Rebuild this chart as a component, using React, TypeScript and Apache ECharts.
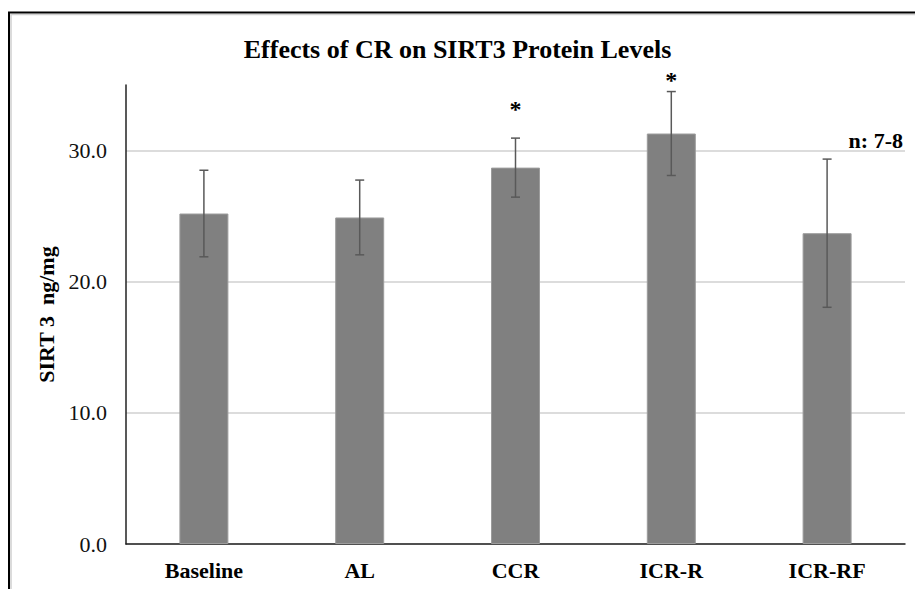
import React, { useEffect, useRef } from "react";
import * as echarts from "echarts";

const categories = ["Baseline", "AL", "CCR", "ICR-R", "ICR-RF"];
const means = [25.2, 24.9, 28.7, 31.3, 23.7];
const errors = [3.3, 2.85, 2.25, 3.2, 5.65];
const significance = ["", "", "*", "*", ""];
const markerLevels = [null, null, 33.2, 35.4, null];
const yMin = 0;
const yMax = 35;
const yInterval = 10;
const titleText = "Effects of CR on SIRT3 Protein Levels";
const yAxisName = "SIRT 3  ng/mg";
const sampleNote = "n: 7-8";

const FONT = "'Liberation Serif', 'Times New Roman', Times, serif";

export default function App() {
  const ref = useRef<HTMLDivElement>(null);

  useEffect(() => {
    if (!ref.current) return;
    const chart = echarts.init(ref.current, null, { renderer: "svg" });

    const errData = categories.map((_, i) => [i, means[i] - errors[i], means[i] + errors[i]]);
    const starData = categories
      .map((_, i) => (significance[i] && markerLevels[i] != null ? [i, markerLevels[i]] : null))
      .filter((d) => d !== null);

    chart.setOption({
      animation: false,
      backgroundColor: "#ffffff",
      textStyle: { fontFamily: FONT },
      title: {
        text: titleText,
        left: "center",
        top: 31,
        textStyle: { fontFamily: FONT, fontSize: 26, fontWeight: "bold", color: "#000" },
      },
      grid: { left: 126, right: 10, top: 85, bottom: 45 },
      xAxis: {
        type: "category",
        data: categories,
        axisLine: { show: true, lineStyle: { color: "#222", width: 1.5 } },
        axisTick: { show: false },
        axisLabel: {
          margin: 15,
          fontFamily: FONT,
          fontSize: 22,
          fontWeight: "bold",
          color: "#000",
        },
      },
      yAxis: {
        type: "value",
        min: yMin,
        max: yMax,
        interval: yInterval,
        name: yAxisName,
        nameLocation: "middle",
        nameGap: 63,
        nameTextStyle: { fontFamily: FONT, fontSize: 22, fontWeight: "bold", color: "#000" },
        axisLine: { show: true, lineStyle: { color: "#222", width: 1.5 } },
        axisTick: { show: false },
        axisLabel: {
          margin: 19,
          fontFamily: FONT,
          fontSize: 22,
          color: "#111",
          showMaxLabel: false,
          formatter: (v: number) => (v % yInterval === 0 ? v.toFixed(1) : ""),
        },
        splitLine: {
          show: true,
          showMaxLine: false,
          lineStyle: { color: "#dcdcdc", width: 2 },
        },
      },
      series: [
        {
          type: "bar",
          data: means,
          barWidth: 49,
          itemStyle: { color: "#808080", borderColor: "#9c9c9c", borderWidth: 1 },
          z: 2,
        },
        {
          type: "custom",
          data: errData,
          encode: { x: 0, y: [1, 2] },
          z: 3,
          renderItem: (params: any, api: any) => {
            const x = api.value(0);
            const lo = api.coord([x, api.value(1)]);
            const hi = api.coord([x, api.value(2)]);
            const cap = 4.5;
            const style = { stroke: "#595959", lineWidth: 1.5 };
            return {
              type: "group",
              children: [
                { type: "line", shape: { x1: hi[0], y1: hi[1], x2: lo[0], y2: lo[1] }, style },
                { type: "line", shape: { x1: hi[0] - cap, y1: hi[1], x2: hi[0] + cap, y2: hi[1] }, style },
                { type: "line", shape: { x1: lo[0] - cap, y1: lo[1], x2: lo[0] + cap, y2: lo[1] }, style },
              ],
            };
          },
        },
        {
          type: "custom",
          data: starData,
          encode: { x: 0, y: 1 },
          z: 4,
          clip: false,
          renderItem: (params: any, api: any) => {
            const x = api.value(0);
            const p = api.coord([x, api.value(1)]);
            return {
              type: "text",
              x: p[0],
              y: p[1],
              style: {
                text: significance[x],
                fontFamily: FONT,
                fontSize: 24,
                fontWeight: "bold",
                fill: "#000",
                textAlign: "center",
                textVerticalAlign: "middle",
              },
            };
          },
        },
      ],
      graphic: [
        {
          type: "rect",
          shape: { x: 11, y: 14.5, width: 1000, height: 1000 },
          style: { fill: "none", stroke: "#d0d0d0", lineWidth: 1.5 },
          silent: true,
        },
        {
          type: "rect",
          shape: { x: 9, y: 12.5, width: 1000, height: 1000 },
          style: { fill: "none", stroke: "#000", lineWidth: 2 },
          silent: true,
        },
        {
          type: "text",
          x: 903,
          y: 140,
          style: {
            text: sampleNote,
            fontFamily: FONT,
            fontSize: 22,
            fontWeight: "bold",
            fill: "#000",
            textAlign: "right",
            textVerticalAlign: "middle",
          },
          silent: true,
        },
      ],
    });

    return () => {
      chart.dispose();
    };
  }, []);

  return (
    <div
      ref={ref}
      style={{ position: "absolute", left: 0, top: 0, width: 915, height: 589 }}
    />
  );
}
